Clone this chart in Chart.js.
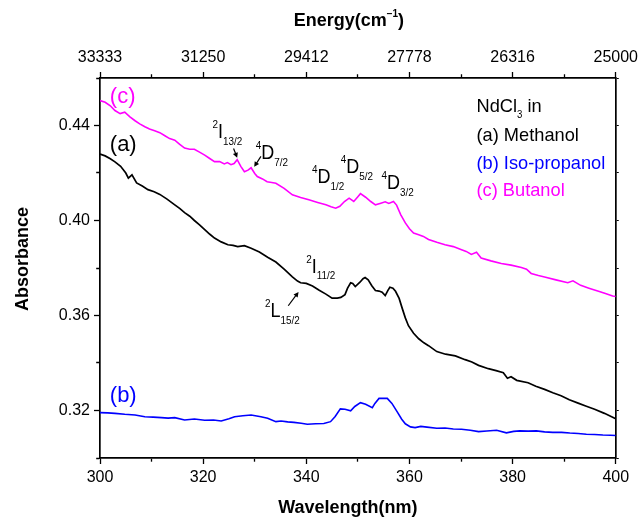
<!DOCTYPE html>
<html>
<head>
<meta charset="utf-8">
<script src="https://cdn.jsdelivr.net/npm/chart.js@4.4.0/dist/chart.umd.min.js"></script>
<style>
html,body{margin:0;padding:0;background:#fff;}
canvas{display:block;}
</style>
</head>
<body>
<canvas id="c" width="643" height="518"></canvas>
<script>
// ---------- data ----------
const wavelengthTicks = [300, 320, 340, 360, 380, 400];
const energyTicks = ['33333', '31250', '29412', '27778', '26316', '25000'];
const absorbanceTicks = [0.32, 0.36, 0.40, 0.44];

// (a) Methanol
const wlA = [300.0,301.0,302.0,302.9,304.0,305.0,305.5,306.2,307.1,308.2,309.3,310.5,311.6,313.0,314.5,315.5,316.4,317.4,318.3,319.3,320.3,321.3,322.2,323.5,324.8,325.8,326.7,328.0,329.3,330.9,332.5,334.1,335.7,337.3,338.3,338.9,340.0,341.2,342.5,343.8,345.0,346.0,346.7,347.5,348.0,348.6,349.0,349.5,350.4,351.0,351.4,352.0,352.7,353.4,354.1,354.7,355.3,355.8,356.2,356.8,357.3,358.0,358.6,359.2,359.8,360.8,361.8,362.8,363.7,365.3,367.0,368.9,370.8,372.1,373.4,375.3,376.8,378.2,379.0,379.7,380.8,383.0,384.5,386.2,387.8,389.4,391.0,392.7,394.3,395.9,397.8,399.7,400.0];
const absA = [0.4280,0.4272,0.4260,0.4247,0.4228,0.4200,0.4178,0.4192,0.4158,0.4145,0.4130,0.4121,0.4110,0.4090,0.4066,0.4050,0.4033,0.4018,0.4000,0.3982,0.3962,0.3942,0.3926,0.3910,0.3898,0.3895,0.3890,0.3894,0.3883,0.3867,0.3845,0.3825,0.3795,0.3763,0.3745,0.3738,0.3735,0.3724,0.3706,0.3690,0.3673,0.3673,0.3676,0.3688,0.3715,0.3738,0.3735,0.3722,0.3740,0.3755,0.3760,0.3750,0.3725,0.3705,0.3703,0.3698,0.3684,0.3705,0.3719,0.3715,0.3702,0.3672,0.3630,0.3590,0.3557,0.3525,0.3502,0.3485,0.3473,0.3448,0.3437,0.3430,0.3414,0.3404,0.3390,0.3376,0.3368,0.3359,0.3336,0.3342,0.3327,0.3317,0.3302,0.3289,0.3275,0.3262,0.3245,0.3231,0.3218,0.3205,0.3188,0.3168,0.3165];

// (b) Iso-propanol
const wlB = [300.0,301.5,302.9,304.8,306.8,308.7,310.3,311.9,313.2,314.5,316.4,318.3,320.3,322.0,323.5,325.0,326.1,327.7,329.3,331.2,332.5,334.1,335.1,336.4,337.6,339.0,340.2,341.8,343.4,344.7,345.6,346.6,347.5,348.6,349.4,350.5,351.5,352.8,353.3,354.1,355.7,356.6,357.6,358.5,359.2,360.2,361.1,362.2,363.4,365.3,366.9,368.5,370.1,371.8,373.4,375.0,376.9,378.8,380.2,381.4,383.0,384.6,386.2,387.8,389.5,391.1,392.7,394.3,395.9,397.5,399.0,400.0];
const absB = [0.3191,0.3190,0.3188,0.3184,0.3181,0.3174,0.3172,0.3170,0.3168,0.3170,0.3160,0.3164,0.3159,0.3160,0.3156,0.3165,0.3174,0.3178,0.3181,0.3174,0.3167,0.3153,0.3156,0.3152,0.3150,0.3146,0.3142,0.3144,0.3145,0.3153,0.3175,0.3207,0.3205,0.3199,0.3217,0.3233,0.3226,0.3212,0.3230,0.3251,0.3251,0.3230,0.3195,0.3163,0.3144,0.3131,0.3128,0.3133,0.3130,0.3125,0.3126,0.3122,0.3121,0.3117,0.3111,0.3114,0.3117,0.3106,0.3112,0.3114,0.3113,0.3114,0.3110,0.3108,0.3108,0.3105,0.3103,0.3100,0.3099,0.3097,0.3096,0.3095];

// (c) Butanol
const wlC = [300.0,301.0,302.0,302.9,303.9,304.8,305.8,306.8,307.7,308.7,309.6,310.6,311.6,312.5,313.5,314.5,315.4,316.4,317.4,318.3,319.3,320.3,321.2,322.2,323.2,324.1,324.7,325.4,326.0,326.6,327.3,328.0,328.7,329.3,330.0,330.5,331.5,332.4,333.3,334.1,335.7,337.3,338.9,340.5,342.2,343.8,344.8,345.7,346.5,347.4,348.3,349.2,350.0,350.5,351.5,352.5,353.4,354.3,355.3,356.0,356.9,357.5,358.3,359.2,360.0,360.8,361.8,362.7,363.7,365.3,366.9,368.5,370.1,371.0,372.0,373.0,373.9,375.8,377.8,379.7,381.7,382.7,383.6,385.0,386.2,388.4,390.7,391.7,393.2,394.8,396.5,398.0,399.4,400.0];
const absC = [0.4505,0.4498,0.4483,0.4463,0.4450,0.4456,0.4436,0.4420,0.4407,0.4395,0.4385,0.4378,0.4370,0.4358,0.4345,0.4338,0.4322,0.4305,0.4300,0.4300,0.4288,0.4275,0.4262,0.4248,0.4248,0.4238,0.4244,0.4235,0.4240,0.4256,0.4228,0.4205,0.4212,0.4222,0.4198,0.4185,0.4175,0.4163,0.4160,0.4157,0.4135,0.4108,0.4097,0.4087,0.4076,0.4066,0.4058,0.4052,0.4060,0.4080,0.4094,0.4080,0.4100,0.4113,0.4098,0.4080,0.4066,0.4072,0.4079,0.4072,0.4080,0.4065,0.4025,0.3990,0.3965,0.3947,0.3940,0.3933,0.3920,0.3908,0.3898,0.3890,0.3877,0.3870,0.3857,0.3866,0.3842,0.3830,0.3819,0.3812,0.3802,0.3795,0.3777,0.3768,0.3762,0.3750,0.3738,0.3746,0.3727,0.3715,0.3703,0.3693,0.3682,0.3680];

// ---------- style ----------
const FAM = "'Liberation Sans', Arial, sans-serif";
const BLACK = '#000000', BLUE = '#0000ff', MAGENTA = '#ff00ff';

function pts(xs, ys) { return xs.map((x, i) => ({x: x, y: ys[i]})); }

// annotations (data coordinates: wavelength, absorbance)
const notes = [
  {x: 301.9, y: 0.4496, parts: [['(c)', 'n']], color: MAGENTA, size: 22, sx: 1},
  {x: 301.9, y: 0.4291, parts: [['(a)', 'n']], color: BLACK, size: 22, sx: 1},
  {x: 301.9, y: 0.3234, parts: [['(b)', 'n']], color: BLUE, size: 22, sx: 1},
  {x: 321.8, y: 0.4346, parts: [['2', 'sup'], ['I', 'n'], ['13/2', 'sub']], color: BLACK, size: 20, sx: 0.9},
  {x: 330.2, y: 0.4258, parts: [['4', 'sup'], ['D', 'n'], ['7/2', 'sub']], color: BLACK, size: 20, sx: 0.9},
  {x: 341.1, y: 0.4158, parts: [['4', 'sup'], ['D', 'n'], ['1/2', 'sub']], color: BLACK, size: 20, sx: 0.9},
  {x: 346.7, y: 0.4199, parts: [['4', 'sup'], ['D', 'n'], ['5/2', 'sub']], color: BLACK, size: 20, sx: 0.9},
  {x: 354.6, y: 0.4133, parts: [['4', 'sup'], ['D', 'n'], ['3/2', 'sub']], color: BLACK, size: 20, sx: 0.9},
  {x: 340.0, y: 0.3781, parts: [['2', 'sup'], ['I', 'n'], ['11/2', 'sub']], color: BLACK, size: 20, sx: 0.9},
  {x: 332.0, y: 0.3593, parts: [['2', 'sup'], ['L', 'n'], ['15/2', 'sub']], color: BLACK, size: 20, sx: 0.9},
  {x: 373.0, y: 0.4458, parts: [['NdCl', 'n'], ['3', 'sub'], [' in', 'n']], color: BLACK, size: 19, sx: 0.96},
  {x: 373.0, y: 0.4333, parts: [['(a) Methanol', 'n']], color: BLACK, size: 19, sx: 0.96},
  {x: 373.0, y: 0.4218, parts: [['(b) Iso-propanol', 'n']], color: BLUE, size: 19, sx: 0.96},
  {x: 373.0, y: 0.4105, parts: [['(c) Butanol', 'n']], color: MAGENTA, size: 19, sx: 0.96}
];
const arrows = [
  {x1: 325.9, y1: 0.4303, x2: 326.6, y2: 0.4264},
  {x1: 331.2, y1: 0.4270, x2: 329.9, y2: 0.4226},
  {x1: 336.5, y1: 0.3641, x2: 338.5, y2: 0.3699}
];

function richWidth(ctx, parts, size, weight) {
  let w = 0;
  for (const [t, k] of parts) {
    const fs = k === 'n' ? size : Math.round(size * 0.55);
    ctx.font = weight + ' ' + fs + 'px ' + FAM;
    w += ctx.measureText(t).width;
  }
  return w;
}

function drawRich(ctx, x, y, parts, color, size, sx, weight, rot) {
  weight = weight || 'normal';
  ctx.save();
  ctx.translate(x, y);
  if (rot) ctx.rotate(rot);
  ctx.scale(sx, 1);
  ctx.fillStyle = color;
  ctx.textBaseline = 'alphabetic';
  ctx.textAlign = 'left';
  let cx = 0;
  for (const [t, k] of parts) {
    const fs = k === 'n' ? size : Math.round(size * 0.55);
    ctx.font = weight + ' ' + fs + 'px ' + FAM;
    const dy = k === 'sup' ? -size * 0.5 : (k === 'sub' ? size * 0.33 : 0);
    ctx.fillText(t, cx, dy);
    cx += ctx.measureText(t).width;
  }
  ctx.restore();
}

const notesPlugin = {
  id: 'notes',
  afterDraw(chart) {
    const ctx = chart.ctx, xs = chart.scales.x, ys = chart.scales.y, ca = chart.chartArea;
    ctx.save();
    for (const n of notes) {
      drawRich(ctx, xs.getPixelForValue(n.x), ys.getPixelForValue(n.y), n.parts, n.color, n.size, n.sx);
    }
    ctx.strokeStyle = BLACK; ctx.fillStyle = BLACK; ctx.lineWidth = 1.2;
    for (const a of arrows) {
      const px1 = xs.getPixelForValue(a.x1), py1 = ys.getPixelForValue(a.y1);
      const px2 = xs.getPixelForValue(a.x2), py2 = ys.getPixelForValue(a.y2);
      const ang = Math.atan2(py2 - py1, px2 - px1);
      const hl = 5, hw = 2.6;
      ctx.beginPath(); ctx.moveTo(px1, py1);
      ctx.lineTo(px2 - Math.cos(ang) * hl * 0.8, py2 - Math.sin(ang) * hl * 0.8); ctx.stroke();
      ctx.beginPath();
      ctx.moveTo(px2, py2);
      ctx.lineTo(px2 - Math.cos(ang) * hl - Math.sin(ang) * hw, py2 - Math.sin(ang) * hl + Math.cos(ang) * hw);
      ctx.lineTo(px2 - Math.cos(ang) * hl + Math.sin(ang) * hw, py2 - Math.sin(ang) * hl - Math.cos(ang) * hw);
      ctx.closePath(); ctx.fill();
    }
    // axis titles
    const cx = (ca.left + ca.right) / 2 - 9;
    const eParts = [['Energy(cm', 'n'], ['\u22121', 'sup'], [')', 'n']];
    const ew = richWidth(ctx, eParts, 18, 'bold');
    drawRich(ctx, cx - ew / 2, 26, eParts, BLACK, 18, 1, 'bold');
    const wParts = [['Wavelength(nm)', 'n']];
    const ww = richWidth(ctx, wParts, 18, 'bold');
    drawRich(ctx, cx - ww / 2 - 1, 513, wParts, BLACK, 18, 1, 'bold');
    const aParts = [['Absorbance', 'n']];
    const aw = richWidth(ctx, aParts, 18, 'bold');
    drawRich(ctx, 28, 259 + aw / 2, aParts, BLACK, 18, 1, 'bold', -Math.PI / 2);
    ctx.restore();
  }
};

const tickFont = {family: FAM, size: 16};
const isMajorX = v => wavelengthTicks.indexOf(Math.round(v)) >= 0;
const majorY = v => absorbanceTicks.findIndex(t => Math.abs(t - v) < 1e-6);
const BW = 1.7;

Chart.defaults.font.family = FAM;

new Chart(document.getElementById('c'), {
  type: 'line',
  data: {
    datasets: [
      {label: '(a) Methanol', data: pts(wlA, absA), borderColor: BLACK, borderWidth: 1.7, pointRadius: 0, tension: 0, xAxisID: 'x', yAxisID: 'y'},
      {label: '(b) Iso-propanol', data: pts(wlB, absB), borderColor: BLUE, borderWidth: 1.6, pointRadius: 0, tension: 0, xAxisID: 'x', yAxisID: 'y'},
      {label: '(c) Butanol', data: pts(wlC, absC), borderColor: MAGENTA, borderWidth: 1.6, pointRadius: 0, tension: 0, xAxisID: 'x', yAxisID: 'y'}
    ]
  },
  options: {
    responsive: false,
    animation: false,
    events: [],
    layout: {padding: 0},
    plugins: {legend: {display: false}, tooltip: {enabled: false}},
    scales: {
      x: {
        type: 'linear', position: 'bottom', min: 300, max: 400,
        ticks: {stepSize: 10, autoSkip: false, maxRotation: 0, color: BLACK, font: tickFont, padding: 4,
          callback: v => isMajorX(v) ? String(wavelengthTicks[wavelengthTicks.indexOf(Math.round(v))]) : ''},
        grid: {drawOnChartArea: false, tickLength: 6, tickColor: BLACK, tickWidth: 1.3,
          tickBorderDash: c => isMajorX(c.tick.value) ? [] : [3, 100]},
        border: {color: BLACK, width: BW},
        afterFit: s => { s.height = 60; }
      },
      x2: {
        type: 'linear', position: 'top', min: 300, max: 400,
        ticks: {stepSize: 10, autoSkip: false, maxRotation: 0, color: BLACK, font: tickFont, padding: 5,
          callback: v => isMajorX(v) ? energyTicks[wavelengthTicks.indexOf(Math.round(v))] : ''},
        grid: {drawOnChartArea: false, tickLength: 6, tickColor: BLACK, tickWidth: 1.3,
          tickBorderDash: c => isMajorX(c.tick.value) ? [] : [0, 2.2, 3, 100]},
        border: {color: BLACK, width: BW},
        afterFit: s => { s.height = 78; }
      },
      y: {
        type: 'linear', position: 'left', min: 0.30, max: 0.46,
        ticks: {stepSize: 0.02, autoSkip: false, color: BLACK, font: tickFont, padding: 4,
          callback: v => majorY(v) >= 0 ? absorbanceTicks[majorY(v)].toFixed(2) : ''},
        grid: {drawOnChartArea: false, tickLength: 6, tickColor: BLACK, tickWidth: 1.3,
          tickBorderDash: c => majorY(c.tick.value) >= 0 ? [] : [0, 2.2, 3, 100]},
        border: {color: BLACK, width: BW},
        afterFit: s => { s.width = 100; }
      },
      y2: {
        type: 'linear', position: 'right', min: 0.30, max: 0.46,
        ticks: {stepSize: 0.02, display: false},
        grid: {drawOnChartArea: false, tickLength: 3, tickColor: BLACK, tickWidth: 1},
        border: {color: BLACK, width: BW},
        afterFit: s => { s.width = 25; }
      }
    }
  },
  plugins: [notesPlugin]
});
</script>
</body>
</html>
